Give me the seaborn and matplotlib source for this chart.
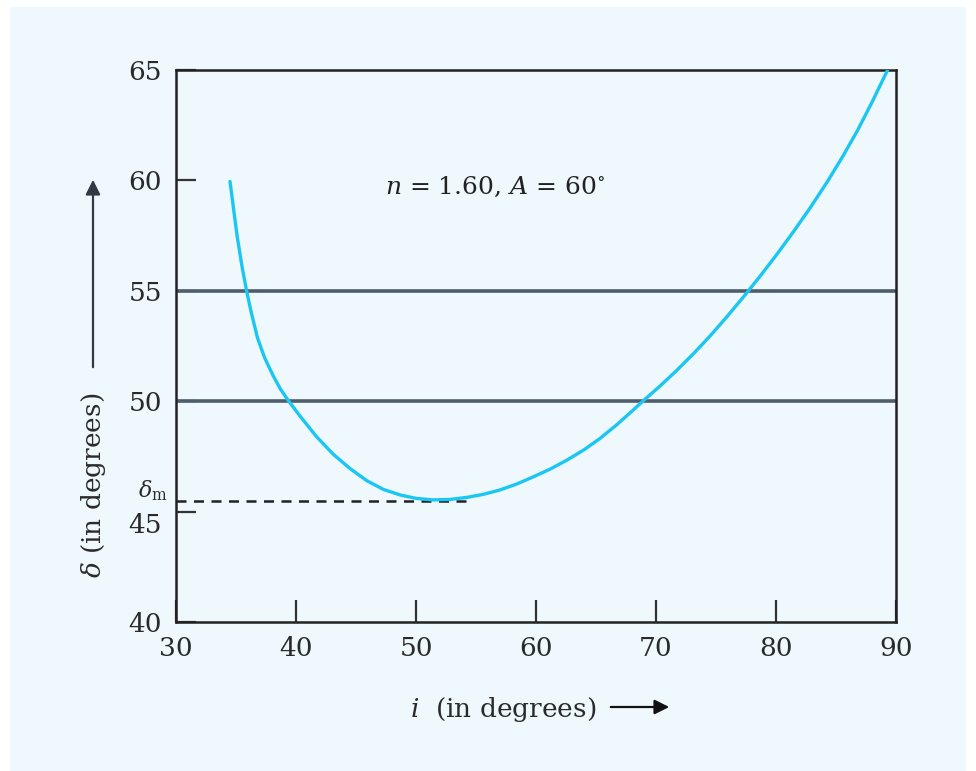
import matplotlib
matplotlib.use("Agg")
import matplotlib.pyplot as plt
import matplotlib.transforms as mtransforms
import pandas as pd
import seaborn as sns

# curve: angle of incidence vs angle of deviation
incidence = [34.5, 34.8, 35.1, 35.5, 35.9, 36.3, 36.8, 37.4, 38.1, 38.7, 39.4, 40.3,
             41.7, 43.1, 44.5, 45.9, 47.3, 48.7, 50.0, 51.4, 52.8, 54.2, 55.6, 57.0,
             58.4, 59.8, 61.2, 62.6, 64.0, 65.3, 66.7, 68.1, 68.9, 70.3, 71.7, 73.1,
             74.5, 75.9, 77.3, 78.7, 80.1, 81.5, 82.9, 84.3, 85.6, 86.8, 88.0, 89.3]
deviation = [59.95, 58.7, 57.45, 56.1, 54.95, 53.95, 52.85, 51.95, 51.15, 50.55, 50.0, 49.35,
             48.4, 47.6, 46.95, 46.4, 46.0, 45.75, 45.6, 45.53, 45.55, 45.64, 45.78, 45.98,
             46.25, 46.58, 46.93, 47.34, 47.8, 48.3, 48.92, 49.6, 50.0, 50.67, 51.38, 52.14,
             52.95, 53.82, 54.73, 55.68, 56.67, 57.71, 58.8, 59.96, 61.12, 62.27, 63.54, 65.0]

x_ticks = [30, 40, 50, 60, 70, 80, 90]
y_ticks = [40, 45, 50, 55, 60, 65]
ref_lines = [50, 55]
delta_min = 45.5
delta_min_end = 54.6

df = pd.DataFrame({"i": incidence, "delta": deviation})

bg = "#eef8fd"
sns.set_theme(style="white")
plt.rcParams["font.family"] = ["DejaVu Serif"]
plt.rcParams["mathtext.fontset"] = "dejavuserif"

fig = plt.figure(figsize=(9.76, 7.71), dpi=100)
fig.patch.set_facecolor("white")
fig.patches.append(plt.Rectangle((10 / 976, 0), 956 / 976, 764 / 771, transform=fig.transFigure,
                                 facecolor=bg, edgecolor="none", zorder=-5))
ax = fig.add_axes([176 / 976, 149 / 771, 720 / 976, 552 / 771])
ax.set_facecolor(bg)

for yv in ref_lines:
    ax.axhline(yv, color="#4f5e6c", lw=2.6, zorder=1)

ax.plot([x_ticks[0], delta_min_end], [delta_min, delta_min], color="#222222", lw=1.8,
        ls=(0, (4, 3)), zorder=2)

sns.lineplot(data=df, x="i", y="delta", color="#1cc6f2", lw=2.4, ax=ax, zorder=3)

ax.set_xlim(x_ticks[0], x_ticks[-1])
ax.set_ylim(y_ticks[0], y_ticks[-1])
ax.set_xticks(x_ticks)
ax.set_yticks(y_ticks)
ax.tick_params(axis="x", bottom=True, direction="in", length=16, width=1.6, color="#333333",
               labelsize=19, labelcolor="#2a2a2a", pad=10)
ax.tick_params(axis="y", left=True, direction="in", length=14.5, width=1.6, color="#333333",
               labelsize=19, labelcolor="#2a2a2a", pad=10)
ax.set_xlabel("")
ax.set_ylabel("")
for s in ax.spines.values():
    s.set_color("#222222")
    s.set_linewidth(1.8)

# push the 45 label down a little, as in the original
lab45 = ax.get_yticklabels()[1]
lab45.set_transform(lab45.get_transform() + mtransforms.ScaledTranslation(0, -8 / 72, fig.dpi_scale_trans))

ax.text(-0.012, delta_min + 0.45, r"$\delta_{\rm m}$", transform=ax.get_yaxis_transform(),
        ha="right", va="center", fontsize=16, color="#2a2a2a")

ax.text(56.6, 59.7, r"$n$ = 1.60, $A$ = 60$^{\circ}$", ha="center", va="center",
        fontsize=18, color="#222222")

# axis labels with arrows
fig.text(503 / 976, 1 - 710 / 771, r"$i$  (in degrees)", ha="center", va="center",
         fontsize=19, color="#2a2a2a")
fig.add_artist(matplotlib.patches.FancyArrowPatch(
    (608 / 976, 1 - 707 / 771), (672 / 976, 1 - 707 / 771), transform=fig.transFigure,
    arrowstyle="-|>", color="#111111", lw=1.6, mutation_scale=22))

fig.text(93 / 976, 1 - 485 / 771, r"$\delta$ (in degrees)", ha="center", va="center",
         rotation=90, fontsize=19, color="#2a2a2a")
fig.add_artist(matplotlib.patches.FancyArrowPatch(
    (93 / 976, 1 - 370 / 771), (93 / 976, 1 - 177 / 771), transform=fig.transFigure,
    arrowstyle="-|>", color="#2f3a44", lw=1.6, mutation_scale=22))

fig.savefig("out.png", dpi=100, facecolor=fig.get_facecolor())
